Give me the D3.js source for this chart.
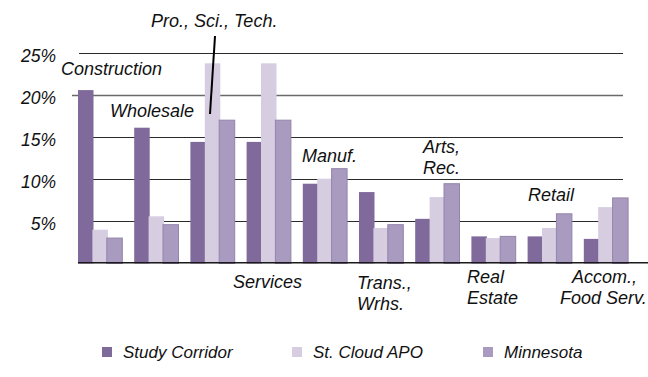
<!DOCTYPE html>
<html>
<head>
<meta charset="utf-8">
<script src="https://cdn.jsdelivr.net/npm/d3@7"></script>
<style>
  html, body { margin: 0; padding: 0; background: #fff; }
  svg { display: block; }
  text { font-family: "Liberation Sans", Arial, sans-serif; font-style: italic; fill: #111; }
</style>
</head>
<body>
<svg id="chart" width="648" height="377"></svg>
<script>
// Employment share by industry (percent)
const categories = ["Construction", "Wholesale", "Pro., Sci., Tech.", "Services", "Manuf.",
                    "Trans., Wrhs.", "Arts, Rec.", "Real Estate", "Retail", "Accom., Food Serv."];
const seriesNames = ["Study Corridor", "St. Cloud APO", "Minnesota"];
const studyCorridor = [20.6, 16.1, 14.4, 14.4, 9.4, 8.4, 5.2, 3.1, 3.1, 2.8];
const stCloudAPO    = [3.9, 5.5, 23.8, 23.8, 10.0, 4.1, 7.8, 2.9, 4.1, 6.6];
const minnesota     = [2.9, 4.5, 17.0, 17.0, 11.2, 4.5, 9.4, 3.1, 5.8, 7.7];
const yTicks = [5, 10, 15, 20, 25];
const tickLabels = ["5%", "10%", "15%", "20%", "25%"];

const colors = ["#80699b", "#d6cde1", "#a99bbf"];
const values = [studyCorridor, stCloudAPO, minnesota];

const svg = d3.select("#chart");

const y = d3.scaleLinear().domain([0, 25]).range([262.3, 53.3]);
const x0 = d3.scaleBand().domain(categories).range([78, 78 + 56.2 * categories.length])
  .paddingInner(0).paddingOuter(0).align(0);
const x1 = d3.scalePoint().domain(seriesNames).range([0, 28.8]);
const barW = 15.5;

// gridlines
const grid = svg.append("g");
grid.selectAll("line").data(yTicks).join("line")
  .attr("x1", d => d === 20 ? 72 : 79)
  .attr("x2", 623)
  .attr("y1", d => Math.round(y(d)) + 0.5)
  .attr("y2", d => Math.round(y(d)) + 0.5)
  .attr("stroke", d => d === 20 ? "#6a6a6a" : "#2a2a2a")
  .attr("stroke-width", d => d === 20 ? 1.6 : 1);

// y tick labels
svg.append("g").selectAll("text").data(yTicks).join("text")
  .attr("x", 56)
  .attr("y", d => y(d) + 9)
  .attr("text-anchor", "end")
  .attr("font-size", 17.5)
  .text((d, i) => tickLabels[i]);

// bars
const rows = categories.map((c, i) => ({ cat: c, vals: seriesNames.map((s, k) => ({ s, k, v: values[k][i] })) }));
const groups = svg.append("g").selectAll("g").data(rows).join("g")
  .attr("transform", d => `translate(${x0(d.cat)},0)`);
groups.selectAll("rect").data(d => d.vals).join("rect")
  .attr("x", d => x1(d.s))
  .attr("y", d => y(d.v))
  .attr("width", barW)
  .attr("height", d => y(0) + 1.2 - y(d.v))
  .attr("fill", d => colors[d.k])
  .attr("stroke", d => d.k === 2 ? "#9384ab" : "none")
  .attr("stroke-width", 1);

// baseline
svg.append("line")
  .attr("x1", 78).attr("x2", 648)
  .attr("y1", y(0) + 0.5).attr("y2", y(0) + 0.5)
  .attr("stroke", "#1a1a1a").attr("stroke-width", 1.5);

// category annotations
const labelPos = [
  { lines: ["Construction"], x: 61, y: 75 },
  { lines: ["Wholesale"], x: 110, y: 117 },
  { lines: ["Pro., Sci., Tech."], x: 151, y: 27 },
  { lines: ["Services"], x: 233, y: 288 },
  { lines: ["Manuf."], x: 302, y: 162 },
  { lines: ["Trans.,", "Wrhs."], x: 357, y: 289 },
  { lines: ["Arts,", "Rec."], x: 423, y: 153 },
  { lines: ["Real", "Estate"], x: 467, y: 283 },
  { lines: ["Retail"], x: 528, y: 201 },
  { lines: ["Accom.,", "Food Serv."], x: 560, y: 283, anchors: [572, 560] }
];
const ann = svg.append("g");
labelPos.forEach(p => {
  const t = ann.append("text").attr("font-size", 18);
  p.lines.forEach((ln, j) => {
    t.append("tspan")
      .attr("x", p.anchors ? p.anchors[j] : p.x)
      .attr("y", p.y + j * 21)
      .text(ln);
  });
});

// leader from Pro., Sci., Tech. label to its bars
svg.append("line")
  .attr("x1", 215).attr("y1", 36)
  .attr("x2", 210).attr("y2", 114)
  .attr("stroke", "#000").attr("stroke-width", 2);

// legend
const legendX = [102, 292, 483];
const legend = svg.append("g").selectAll("g").data(seriesNames).join("g")
  .attr("transform", (d, i) => `translate(${legendX[i]},347)`);
legend.append("rect").attr("width", 10).attr("height", 10)
  .attr("fill", (d, i) => colors[i]);
legend.append("text").attr("x", 21).attr("y", 11).attr("font-size", 17).text(d => d);
</script>
</body>
</html>
